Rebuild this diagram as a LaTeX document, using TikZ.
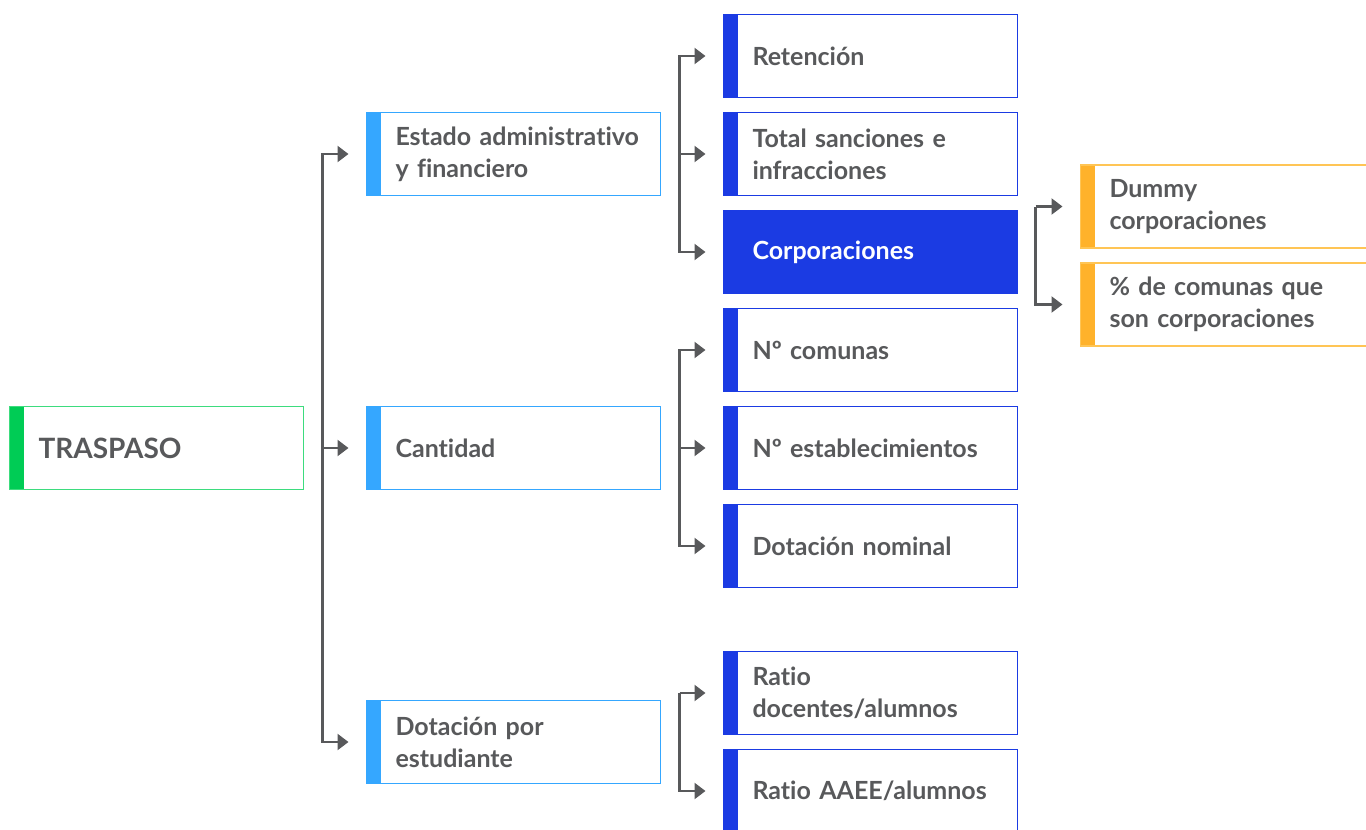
\documentclass[tikz,border=0pt]{standalone}
\usepackage{fontspec}
\setmainfont{Lato}[Ligatures=CommonOff]
\usepackage{xcolor}
\usetikzlibrary{arrows.meta,positioning}
\definecolor{tgreen}{HTML}{00CC55}
\definecolor{tgreenlight}{HTML}{3DDC7E}
\definecolor{tsky}{HTML}{35A7FF}
\definecolor{tblue}{HTML}{1B3BE3}
\definecolor{torange}{HTML}{FFB22B}
\definecolor{torangelight}{HTML}{FFC555}
\definecolor{tgrey}{HTML}{58595B}

\begin{document}
\begin{tikzpicture}[
    x=1pt, y=-1pt,
    box/.style={rectangle, draw=#1, line width=1.3pt, outer sep=0pt, minimum height=83pt, text width=264pt, inner xsep=15pt, inner ysep=0pt, align=left, text=tgrey, font=\fontsize{25}{32}\selectfont\bfseries, execute at begin node={\leftskip=14pt}, path picture={\fill[#1] (path picture bounding box.south west) rectangle ([xshift=14pt]path picture bounding box.north west);}},
    arrow/.style={draw=tgrey, line width=2.2pt, -{Triangle[length=11pt,width=16pt]}, shorten >=18pt}
]

\path[use as bounding box, fill=white] (0,0) rectangle (1366,830);
\clip (0,0) rectangle (1366,830);

\node [box=tgreen, draw=tgreenlight, font=\fontsize{28}{34}\selectfont\bfseries] (traspaso) at (156.5,448) {TRASPASO};
\node [box=tsky, right=63pt of traspaso] (cantidad) {Cantidad};
\node [box=tsky, above=211pt of cantidad] (estado) {Estado administrativo\\y financiero};
\node [box=tsky, below=211pt of cantidad] (dotpor) {Dotación por\\estudiante};

\node [box=tblue, right=63pt of estado] (sanciones) {Total sanciones e\\infracciones};
\node [box=tblue, above=15pt of sanciones] (retencion) {Retención};
\node [box=tblue, fill=tblue, text=white, below=15pt of sanciones] (corp) {Corporaciones};
\node [box=tblue, below=15pt of corp] (ncomunas) {Nº comunas};
\node [box=tblue, below=15pt of ncomunas] (nestab) {Nº establecimientos};
\node [box=tblue, below=15pt of nestab] (dotnominal) {Dotación nominal};
\node [box=tblue, below=64pt of dotnominal] (ratiodoc) {Ratio\\docentes/alumnos};
\node [box=tblue, below=15pt of ratiodoc] (ratioaaee) {Ratio AAEE/alumnos};

\node [box=torange, draw=torangelight, above right=4pt and 63pt of corp.east] (dummy) {Dummy\\corporaciones};
\node [box=torange, draw=torangelight, below=15pt of dummy] (pctcom) {\% de comunas que\\son corporaciones};

% brackets
\coordinate (j1) at ([xshift=-44pt]cantidad.west);
\draw [arrow] (j1) |- (estado.west);
\draw [arrow] (j1) |- (dotpor.west);
\draw [arrow] (j1) -- (cantidad.west);

\coordinate (j2) at ([xshift=-44pt]sanciones.west);
\draw [arrow] (j2) |- (retencion.west);
\draw [arrow] (j2) |- (corp.west);
\draw [arrow] (j2) -- (sanciones.west);

\coordinate (j3) at ([xshift=-44pt]nestab.west);
\draw [arrow] (j3) |- (ncomunas.west);
\draw [arrow] (j3) |- (dotnominal.west);
\draw [arrow] (j3) -- (nestab.west);

\coordinate (j4) at ([xshift=-44pt]ratiodoc.west);
\draw [arrow] (j4) -- (ratiodoc.west);
\draw [arrow] (j4) |- (ratioaaee.west);

\coordinate (j5) at ([xshift=-45pt]dummy.west);
\draw [arrow] (j5) -- (dummy.west);
\draw [arrow] (j5) |- (pctcom.west);

\end{tikzpicture}
\end{document}
